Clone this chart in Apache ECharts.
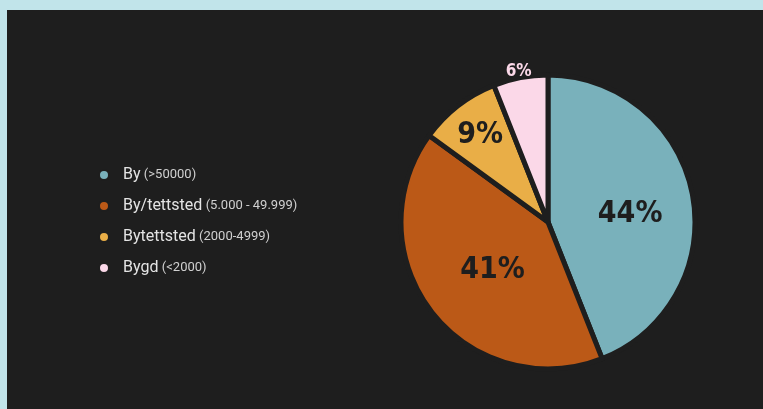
<!DOCTYPE html>
<html>
<head>
<meta charset="utf-8">
<script src="https://cdn.jsdelivr.net/npm/echarts@6/dist/echarts.min.js"></script>
<style>
  html, body { margin: 0; padding: 0; background: #c1e4ea; }
  #chart { position: absolute; left: 7px; top: 10px; width: 756px; height: 399px; }
</style>
</head>
<body>
<div id="chart"></div>
<script>
// Data: share of respondents by settlement type
const categories = ['By', 'By/tettsted', 'Bytettsted', 'Bygd'];
const ranges     = ['(>50000)', '(5.000 - 49.999)', '(2000-4999)', '(<2000)'];
const shares     = [44, 41, 9, 6];

const colors     = ['#79b1bb', '#bb5917', '#e9ae47', '#fbd8e8'];
const labelColor = ['#1e1e1e', '#1e1e1e', '#1e1e1e', '#fbd8e8'];
const labelSize  = [30, 30, 30, 17];
// nudges for labels that sit off the default mid-radius spot
const labelNudge = [[7, 7], [5, 1], [-21, -26], [-15, -75]];

const chart = echarts.init(document.getElementById('chart'));

const pieData = categories.map((c, i) => ({
  name: c,
  value: shares[i],
  itemStyle: { color: colors[i] },
  label: { color: labelColor[i], fontSize: labelSize[i] },
}));

chart.setOption({
  backgroundColor: '#1e1e1e',
  animation: false,
  legend: {
    orient: 'vertical',
    left: 86, top: 150,
    itemWidth: 10, itemHeight: 10,
    itemGap: 11,
    icon: 'circle',
    data: categories,
    formatter: (name) => {
      const i = categories.indexOf(name);
      return '{a|' + name + '} {b|' + ranges[i] + '}';
    },
    textStyle: {
      padding: [0, 0, 0, 9],
      rich: {
        a: { fontFamily: 'Roboto', fontSize: 16, color: '#e4e4e4', height: 20, lineHeight: 20 },
        b: { fontFamily: 'Roboto', fontSize: 13, color: '#d0d0d0', height: 20, lineHeight: 20 },
      },
    },
  },
  series: [{
    type: 'pie',
    center: [541, 212],
    radius: [0, 147],
    startAngle: 90,
    clockwise: true,
    data: pieData,
    itemStyle: { borderColor: '#1e1e1e', borderWidth: 5 },
    label: {
      show: true,
      position: 'inside',
      formatter: '{c}%',
      fontFamily: "'DejaVu Sans Condensed', 'Liberation Sans Narrow', sans-serif",
      fontWeight: 'bold',
    },
    labelLine: { show: false },
    labelLayout: (p) => ({ dx: labelNudge[p.dataIndex][0], dy: labelNudge[p.dataIndex][1] }),
    emphasis: { disabled: true },
  }],
});
</script>
</body>
</html>
